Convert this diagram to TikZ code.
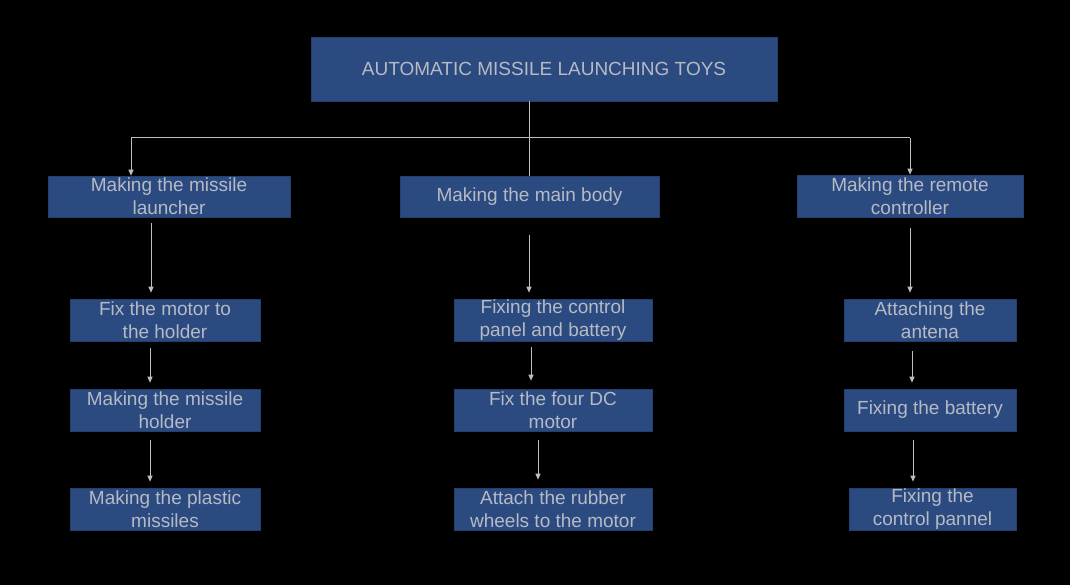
\documentclass[tikz,border=0pt]{standalone}
\usepackage{fontspec}
\setmainfont{Liberation Sans}
\usetikzlibrary{arrows.meta}
\definecolor{boxblue}{RGB}{42,74,128}
\definecolor{boxtext}{RGB}{182,186,196}
\definecolor{linegray}{RGB}{190,190,190}
\begin{document}
\begin{tikzpicture}[x=1pt,y=-1pt,
  box/.style={fill=boxblue, draw=boxblue!85!black, line width=0.6pt, text=boxtext,
    inner sep=0pt, align=center, font=\fontsize{19}{23}\selectfont},
  line/.style={draw=linegray, line width=1pt},
  arr/.style={line, -{Triangle[width=5pt,length=6pt]}, shorten >=6pt}]
% Hintergrund
\fill[black] (0,0) rectangle (1070,585);
% Kaesten
\node[box, minimum width=466, minimum height=64] (title) at (544,69) {AUTOMATIC MISSILE LAUNCHING TOYS};
\node[box, minimum width=242, minimum height=41] (l1) at (169,196.5) {Making the missile\\launcher};
\node[box, minimum width=259, minimum height=41] (m1) at (529.5,196.5) {Making the main body};
\node[box, minimum width=226, minimum height=42] (r1) at (910,196) {Making the remote\\controller};
\node[box, minimum width=190, minimum height=42] (l2) at (165,320) {Fix the motor to\\the holder};
\node[box, minimum width=190, minimum height=42] (l3) at (165,410) {Making the missile\\holder};
\node[box, minimum width=190, minimum height=42] (l4) at (165,509) {Making the plastic\\missiles};
\node[box, minimum width=198, minimum height=42] (m2) at (553,320) {Fixing the control\\panel and battery};
\node[box, minimum width=198, minimum height=42] (m3) at (553,410) {Fix the four DC\\motor};
\node[box, minimum width=198, minimum height=42] (m4) at (553,509) {Attach the rubber\\wheels to the motor};
\node[box, minimum width=172, minimum height=42] (r2) at (930,320) {Attaching the\\antena};
\node[box, minimum width=172, minimum height=42] (r3) at (930,410) {Fixing the battery};
\node[box, minimum width=167, minimum height=42] (r4) at (932.5,509) {Fixing the\\control pannel};
% Verteiler
\coordinate (cl) at (131,138);
\coordinate (cr) at (910,138);
\draw[line] (title.south -| m1) -- (m1.north);
\draw[line] (cl) -- (cr);
\draw[arr, shorten >=0pt] (cl) -- (cl |- l1.north);
\draw[arr, shorten >=0pt] (cr) -- (r1.north);
% Pfeile
\draw[arr, shorten <=6pt] (l1.south -| 151,0) -- (l2.north -| 151,0);
\draw[arr, shorten <=7pt] (l2.south -| 150,0) -- (l3.north -| 150,0);
\draw[arr, shorten <=9pt] (l3.south -| 150,0) -- (l4.north -| 150,0);
\draw[arr, shorten <=18pt] (m1.south -| 529,0) -- (m2.north -| 529,0);
\draw[arr, shorten <=6pt, shorten >=8pt] (m2.south -| 531,0) -- (m3.north -| 531,0);
\draw[arr, shorten <=9pt, shorten >=8pt] (m3.south -| 538,0) -- (m4.north -| 538,0);
\draw[arr, shorten <=11pt] (r1.south -| 910,0) -- (r2.north -| 910,0);
\draw[arr, shorten <=10pt] (r2.south -| 912,0) -- (r3.north -| 912,0);
\draw[arr, shorten <=9pt] (r3.south -| 913,0) -- (r4.north -| 913,0);
\end{tikzpicture}
\end{document}
